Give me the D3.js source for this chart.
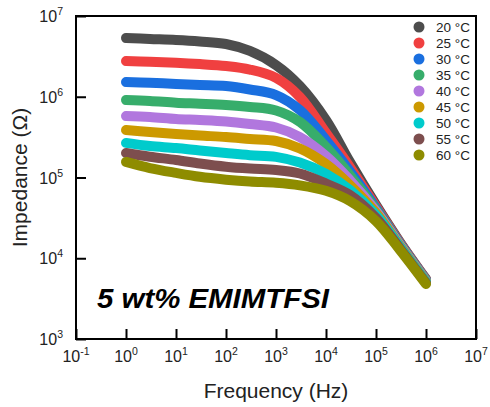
<!DOCTYPE html>
<html>
<head>
<meta charset="utf-8">
<script src="https://cdn.jsdelivr.net/npm/d3@7"></script>
<style>
  body { margin: 0; background: #fff; }
  text { font-family: "Liberation Sans", Arial, sans-serif; }
</style>
</head>
<body>
<script>
var freq = [1, 3, 10, 30, 100, 300, 1e3, 3e3, 1e4, 3e4, 1e5, 3e5, 1e6]

var temps = ["20 °C", "25 °C", "30 °C", "35 °C", "40 °C", "45 °C", "50 °C", "55 °C", "60 °C"]
var colors = ["#4d4d4d", "#f04040", "#1a6fdf", "#37ad6b", "#b177de", "#cc9900", "#00cbcc", "#7d4e4e", "#8e8c00"]

// impedance (ohm) per temperature
var z20 = [5.34e6, 5.19e6, 5.04e6, 4.83e6, 4.50e6, 3.69e6, 2.47e6, 1.36e6, 5.15e5, 1.56e5, 4.57e4, 1.59e4, 5.53e3]
var z25 = [2.77e6, 2.72e6, 2.64e6, 2.54e6, 2.40e6, 2.17e6, 1.71e6, 9.93e5, 3.56e5, 1.35e5, 4.37e4, 1.55e4, 5.45e3]
var z30 = [1.52e6, 1.49e6, 1.44e6, 1.40e6, 1.36e6, 1.23e6, 1.05e6, 6.85e5, 2.91e5, 1.20e5, 4.19e4, 1.52e4, 5.38e3]
var z35 = [9.12e5, 8.86e5, 8.44e5, 8.20e5, 7.90e5, 7.47e5, 6.76e5, 4.87e5, 2.39e5, 1.07e5, 4.02e4, 1.50e4, 5.30e3]
var z40 = [5.77e5, 5.61e5, 5.30e5, 5.15e5, 4.94e5, 4.60e5, 4.16e5, 3.17e5, 1.85e5, 9.31e4, 3.85e4, 1.46e4, 5.23e3]
var z45 = [3.87e5, 3.66e5, 3.46e5, 3.31e5, 3.17e5, 3.00e5, 2.83e5, 2.29e5, 1.47e5, 8.08e4, 3.63e4, 1.42e4, 5.15e3]
var z50 = [2.68e5, 2.45e5, 2.32e5, 2.16e5, 2.01e5, 1.89e5, 1.80e5, 1.53e5, 1.11e5, 7.00e4, 3.43e4, 1.38e4, 5.08e3]
var z55 = [2.01e5, 1.81e5, 1.65e5, 1.49e5, 1.36e5, 1.29e5, 1.24e5, 1.12e5, 8.40e4, 6.07e4, 3.15e4, 1.32e4, 4.94e3]
var z60 = [1.56e5, 1.31e5, 1.14e5, 1.02e5, 9.40e4, 8.90e4, 8.60e4, 8.00e4, 6.85e4, 5.12e4, 2.89e4, 1.27e4, 4.80e3]
var series = [z20, z25, z30, z35, z40, z45, z50, z55, z60]

var xTickExp = [-1, 0, 1, 2, 3, 4, 5, 6, 7]
var yTickExp = [3, 4, 5, 6, 7]

var W = 490, H = 407
var m = {left: 76, top: 16, right: 14, bottom: 68}

var svg = d3.select("body").append("svg")
  .attr("width", W).attr("height", H)

var x = d3.scaleLog().domain([0.1, 1e7]).range([m.left, W - m.right])
var y = d3.scaleLog().domain([1e3, 1e7]).range([H - m.bottom, m.top])

// curves
var line = d3.line()
  .x(function(d) { return x(d[0]) })
  .y(function(d) { return y(d[1]) })
  .curve(d3.curveCatmullRom.alpha(0.5))

series.forEach(function(s, i) {
  svg.append("path")
    .datum(freq.map(function(f, j) { return [f, s[j]] }))
    .attr("d", line)
    .attr("fill", "none")
    .attr("stroke", colors[i])
    .attr("stroke-width", 10)
    .attr("stroke-linecap", "round")
    .attr("stroke-linejoin", "round")
})

// frame
svg.append("rect")
  .attr("x", m.left).attr("y", m.top)
  .attr("width", W - m.left - m.right).attr("height", H - m.top - m.bottom)
  .attr("fill", "none").attr("stroke", "#000").attr("stroke-width", 2)

// inward ticks
var xAxis = d3.axisBottom(x)
  .tickValues(xTickExp.map(function(e) { return Math.pow(10, e) }))
  .tickSize(-10).tickFormat("")
var gx = svg.append("g").attr("transform", "translate(0," + (H - m.bottom) + ")").call(xAxis)
gx.select(".domain").remove()
gx.selectAll("line").attr("stroke-width", 2)

var yAxis = d3.axisLeft(y)
  .tickValues(yTickExp.map(function(e) { return Math.pow(10, e) }))
  .tickSize(-10).tickFormat("")
var gy = svg.append("g").attr("transform", "translate(" + m.left + ",0)").call(yAxis)
gy.select(".domain").remove()
gy.selectAll("line").attr("stroke-width", 2)

// tick labels
xTickExp.forEach(function(e) {
  var t = svg.append("text")
    .attr("x", x(Math.pow(10, e))).attr("y", H - m.bottom + 23)
    .attr("text-anchor", "middle").attr("font-size", 16).attr("fill", "#222")
  t.append("tspan").text("10")
  t.append("tspan").attr("dy", -7).attr("font-size", 10.5).text(e)
})
yTickExp.forEach(function(e) {
  var t = svg.append("text")
    .attr("x", m.left - 13).attr("y", y(Math.pow(10, e)) + 6)
    .attr("text-anchor", "end").attr("font-size", 16).attr("fill", "#222")
  t.append("tspan").text("10")
  t.append("tspan").attr("dy", -7).attr("font-size", 10.5).text(e)
})

// axis titles
svg.append("text")
  .attr("x", (m.left + W - m.right) / 2).attr("y", 398)
  .attr("text-anchor", "middle").attr("font-size", 21).attr("fill", "#222")
  .text("Frequency (Hz)")
svg.append("text")
  .attr("transform", "translate(27," + ((m.top + H - m.bottom) / 2) + ") rotate(-90)")
  .attr("text-anchor", "middle").attr("font-size", 21).attr("fill", "#222")
  .text("Impedance (Ω)")

// legend
var lg = svg.append("g")
temps.forEach(function(t, i) {
  var yy = 27 + i * 16
  lg.append("circle").attr("cx", 419).attr("cy", yy).attr("r", 5.5).attr("fill", colors[i])
  lg.append("text").attr("x", 436).attr("y", yy + 5)
    .attr("font-size", 13.5).attr("fill", "#222").text(t)
})

// annotation
svg.append("text")
  .attr("x", 97).attr("y", 308)
  .attr("font-weight", "bold").attr("font-style", "italic")
  .attr("font-size", 28).attr("fill", "#000")
  .attr("textLength", 232).attr("lengthAdjust", "spacingAndGlyphs")
  .text("5 wt% EMIMTFSI")
</script>
</body>
</html>
